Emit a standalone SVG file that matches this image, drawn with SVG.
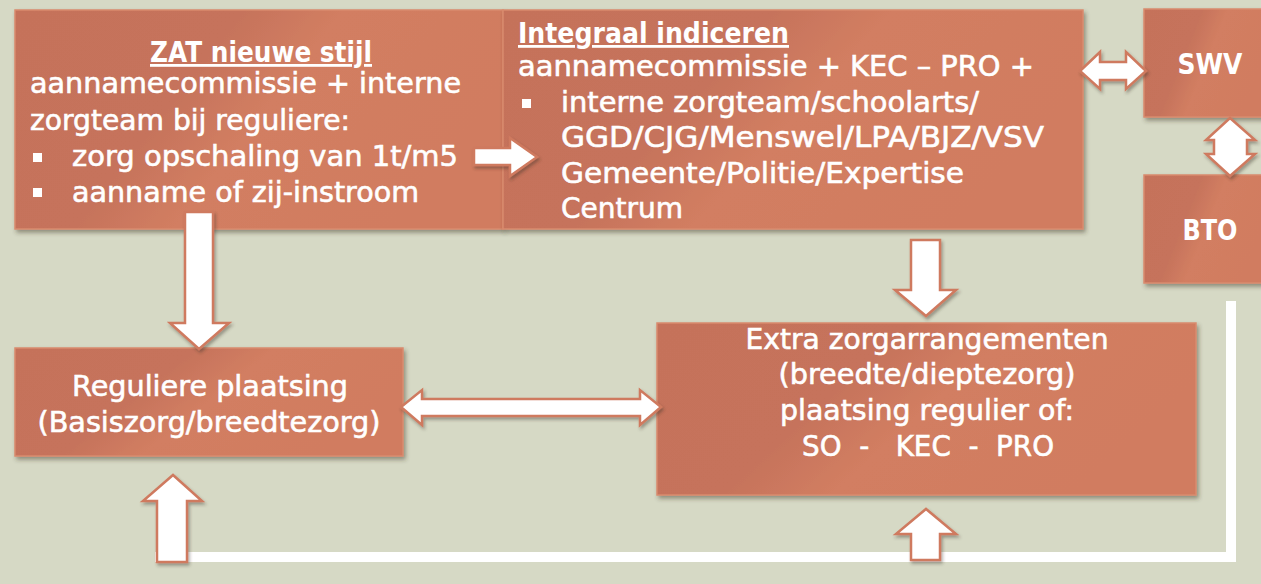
<svg xmlns="http://www.w3.org/2000/svg" width="1261" height="584" viewBox="0 0 1261 584">
<defs>
  <linearGradient id="boxg" x1="0" y1="0" x2="1" y2="0.35">
    <stop offset="0" stop-color="#c5725a"/>
    <stop offset="0.42" stop-color="#c6735b"/>
    <stop offset="0.6" stop-color="#d27e62"/>
    <stop offset="1" stop-color="#d17c60"/>
  </linearGradient>
  <filter id="sh" x="-10%" y="-10%" width="125%" height="130%">
    <feDropShadow dx="2" dy="3" stdDeviation="2" flood-color="#3a3020" flood-opacity="0.45"/>
  </filter>
  <filter id="ash" x="-20%" y="-20%" width="150%" height="150%">
    <feDropShadow dx="1.5" dy="2.5" stdDeviation="1.5" flood-color="#3a3020" flood-opacity="0.4"/>
  </filter>
</defs>
<style>
  .box { fill: url(#boxg); stroke: #d98b6e; stroke-width: 1.5; filter: url(#sh); }
  .arr { fill: #ffffff; stroke: #cf7a5f; stroke-width: 2.5; stroke-linejoin: miter; filter: url(#ash); }
  .t { font-family: "DejaVu Sans", "Liberation Sans", sans-serif; font-size: 28px; fill: #ffffff; stroke: #ffffff; stroke-width: 0.6; }
  .b { font-weight: bold; stroke-width: 0; }
  .u { text-decoration: underline; }
  .mid { text-anchor: middle; }
  .bul { fill: #ffffff; }
</style>
<rect x="0" y="0" width="1261" height="584" fill="#d6d9c5"/>

<g id="connectors">
  <polyline points="155,557 1231,557 1231,301" fill="none" stroke="#ffffff" stroke-width="10"/>
</g>

<g id="zat">
  <rect class="box" x="15" y="10" width="488" height="219"/>
  <text class="t b u mid" x="261" y="62" textLength="222" lengthAdjust="spacingAndGlyphs">ZAT nieuwe stijl</text>
  <text class="t" x="30" y="93" textLength="431" lengthAdjust="spacingAndGlyphs">aannamecommissie + interne</text>
  <text class="t" x="30" y="130" textLength="320" lengthAdjust="spacingAndGlyphs">zorgteam bij reguliere:</text>
  <rect class="bul" x="33" y="153" width="9" height="9"/>
  <text class="t" x="72" y="166" textLength="386" lengthAdjust="spacingAndGlyphs">zorg opschaling van 1t/m5</text>
  <rect class="bul" x="33" y="188" width="9" height="9"/>
  <text class="t" x="72" y="202" textLength="347" lengthAdjust="spacingAndGlyphs">aanname of zij-instroom</text>
</g>

<g id="integraal">
  <rect class="box" x="503" y="10" width="580" height="219"/>
  <text class="t b u" x="518" y="43" textLength="271" lengthAdjust="spacingAndGlyphs">Integraal indiceren</text>
  <text class="t" x="518" y="76" textLength="516" lengthAdjust="spacingAndGlyphs">aannamecommissie + KEC – PRO +</text>
  <rect class="bul" x="522" y="99" width="9" height="9"/>
  <text class="t" x="561" y="112" textLength="418" lengthAdjust="spacingAndGlyphs">interne zorgteam/schoolarts/</text>
  <text class="t" x="561" y="147" textLength="483" lengthAdjust="spacingAndGlyphs">GGD/CJG/Menswel/LPA/BJZ/VSV</text>
  <text class="t" x="561" y="183" textLength="403" lengthAdjust="spacingAndGlyphs">Gemeente/Politie/Expertise</text>
  <text class="t" x="561" y="218" textLength="122" lengthAdjust="spacingAndGlyphs">Centrum</text>
</g>

<g id="swv">
  <rect class="box" x="1144" y="9" width="125" height="108"/>
  <text class="t b mid" x="1210" y="74" font-size="26" textLength="65" lengthAdjust="spacingAndGlyphs">SWV</text>
</g>

<g id="bto">
  <rect class="box" x="1144" y="175" width="125" height="108"/>
  <text class="t b mid" x="1210" y="240" font-size="26" textLength="55" lengthAdjust="spacingAndGlyphs">BTO</text>
</g>

<g id="reguliere">
  <rect class="box" x="15" y="348" width="388" height="108"/>
  <text class="t mid" x="210" y="396" textLength="276" lengthAdjust="spacingAndGlyphs">Reguliere plaatsing</text>
  <text class="t mid" x="209" y="432" textLength="343" lengthAdjust="spacingAndGlyphs">(Basiszorg/breedtezorg)</text>
</g>

<g id="extra">
  <rect class="box" x="657" y="323" width="539" height="172"/>
  <text class="t mid" x="927" y="349" textLength="363" lengthAdjust="spacingAndGlyphs">Extra zorgarrangementen</text>
  <text class="t mid" x="927" y="384" textLength="297" lengthAdjust="spacingAndGlyphs">(breedte/dieptezorg)</text>
  <text class="t mid" x="927" y="420" textLength="294" lengthAdjust="spacingAndGlyphs">plaatsing regulier of:</text>
  <text class="t mid" x="928" y="456" textLength="252" lengthAdjust="spacingAndGlyphs" xml:space="preserve">SO  -   KEC  -  PRO</text>
</g>

<g id="arrows">
  <polygon class="arr" points="474,148 510,148 510,138 537,157 510,176 510,165 474,165"/>
  <polygon class="arr" points="185,212 213,212 213,323 229,323 199,349 170,323 185,323"/>
  <polygon class="arr" points="157,562 157,501 143,501 173,475 202,501 187,501 187,562"/>
  <polygon class="arr" points="911,240 940,240 940,290 956,290 926,316 895,290 911,290"/>
  <polygon class="arr" points="911,560 911,534 896,534 926,509 956,534 940,534 940,560"/>
  <polygon class="arr" points="401,407 422,390 422,399 640,399 640,390 661,407 640,425 640,416 422,416 422,425"/>
  <polygon class="arr" points="1080,71 1100,52 1100,62 1126,62 1126,52 1146,71 1126,89 1126,80 1100,80 1100,89"/>
  <polygon class="arr" points="1230,118 1255,140 1247,140 1247,154 1255,154 1230,176 1206,154 1214,154 1214,140 1206,140"/>
</g>
</svg>
